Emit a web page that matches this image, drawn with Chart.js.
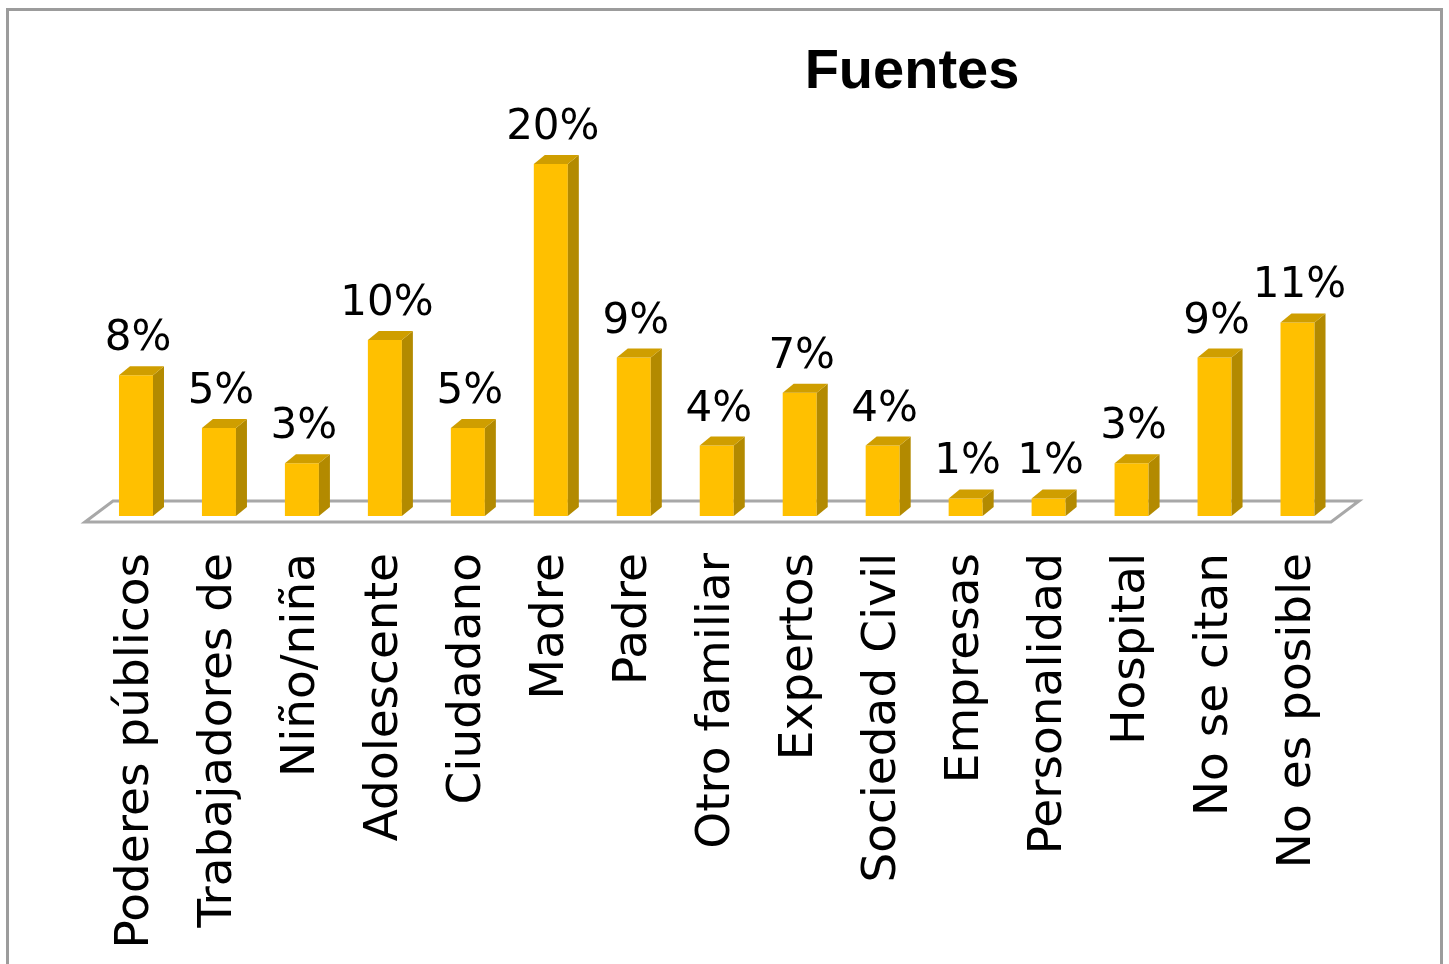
<!DOCTYPE html>
<html>
<head>
<meta charset="utf-8">
<script src="https://cdn.jsdelivr.net/npm/chart.js@4/dist/chart.umd.min.js"></script>
<style>
  html,body{margin:0;padding:0;background:#fff;}
  #wrap{position:relative;width:1449px;height:964px;}
</style>
</head>
<body>
<div id="wrap"><canvas id="c" width="1449" height="964"></canvas></div>
<script>
const categories = ["Poderes públicos","Trabajadores de","Niño/niña","Adolescente","Ciudadano","Madre","Padre","Otro familiar","Expertos","Sociedad Civil","Empresas","Personalidad","Hospital","No se citan","No es posible"];
const values = [8,5,3,10,5,20,9,4,7,4,1,1,3,9,11];
const chartTitle = "Fuentes";

const DEPTH_X = 11, DEPTH_Y = 9;

const framePlugin = {
  id: 'frame',
  beforeDraw(chart) {
    const ctx = chart.ctx;
    ctx.save();
    ctx.fillStyle = '#ffffff';
    ctx.fillRect(0, 0, chart.width, chart.height);
    ctx.strokeStyle = '#9c9c9c';
    ctx.lineWidth = 3;
    ctx.strokeRect(7.5, 9.5, 1434, 1100);
    ctx.restore();
  }
};

const floorPlugin = {
  id: 'floor3d',
  beforeDatasetsDraw(chart) {
    const ctx = chart.ctx;
    const area = chart.chartArea;
    const base = chart.scales.y.getPixelForValue(0);
    const fy = base + 6, by = base - 15;
    const lf = area.left - 9.5, rf = area.right - 8;
    ctx.save();
    ctx.beginPath();
    ctx.moveTo(lf, fy);
    ctx.lineTo(lf + 28, by);
    ctx.lineTo(rf + 28, by);
    ctx.lineTo(rf, fy);
    ctx.closePath();
    ctx.fillStyle = '#ffffff';
    ctx.fill();
    ctx.strokeStyle = '#a8a8a8';
    ctx.lineWidth = 3;
    ctx.lineJoin = 'miter';
    ctx.stroke();
    ctx.restore();
  }
};

const barsPlugin = {
  id: 'bars3d',
  afterDatasetsDraw(chart) {
    const ctx = chart.ctx;
    const meta = chart.getDatasetMeta(0);
    ctx.save();
    meta.data.forEach((bar, i) => {
      const p = bar.getProps(['x','y','base','width'], true);
      const left = p.x - p.width/2, right = p.x + p.width/2;
      const top = p.y, bottom = p.base;
      // side face
      ctx.beginPath();
      ctx.moveTo(right, top);
      ctx.lineTo(right + DEPTH_X, top - DEPTH_Y);
      ctx.lineTo(right + DEPTH_X, bottom - DEPTH_Y);
      ctx.lineTo(right, bottom);
      ctx.closePath();
      ctx.fillStyle = '#B38A00';
      ctx.fill();
      // top face
      ctx.beginPath();
      ctx.moveTo(left, top);
      ctx.lineTo(left + DEPTH_X, top - DEPTH_Y);
      ctx.lineTo(right + DEPTH_X, top - DEPTH_Y);
      ctx.lineTo(right, top);
      ctx.closePath();
      ctx.fillStyle = '#CF9E00';
      ctx.fill();
      // value label
      ctx.fillStyle = '#000000';
      ctx.font = '42px "DejaVu Sans"';
      ctx.textAlign = 'center';
      ctx.textBaseline = 'alphabetic';
      ctx.fillText(values[i] + '%', p.x + 2, top - 25);
    });
    // title
    ctx.font = 'bold 56px "Liberation Sans"';
    ctx.textAlign = 'center';
    ctx.fillStyle = '#000000';
    ctx.fillText(chartTitle, 912, 88);
    ctx.restore();
  }
};

new Chart(document.getElementById('c'), {
  type: 'bar',
  data: {
    labels: categories,
    datasets: [{
      data: values,
      backgroundColor: '#FFC000',
      borderWidth: 0,
      barPercentage: 0.41,
      categoryPercentage: 1.0
    }]
  },
  options: {
    responsive: false,
    animation: false,
    devicePixelRatio: 1,
    layout: { padding: { left: 94.5, right: 110, top: 76, bottom: 0 } },
    plugins: {
      legend: { display: false },
      title: { display: false },
      tooltip: { enabled: false }
    },
    scales: {
      y: { display: false, min: 0, max: 25 },
      x: {
        grid: { display: false, drawTicks: false },
        border: { display: false },
        ticks: {
          autoSkip: false,
          minRotation: 90,
          maxRotation: 90,
          padding: 37,
          color: '#000000',
          font: { family: '"DejaVu Sans"', size: 47 }
        },
        afterFit(scale) { scale.height = 448; }
      }
    }
  },
  plugins: [framePlugin, floorPlugin, barsPlugin]
});
</script>
</body>
</html>
